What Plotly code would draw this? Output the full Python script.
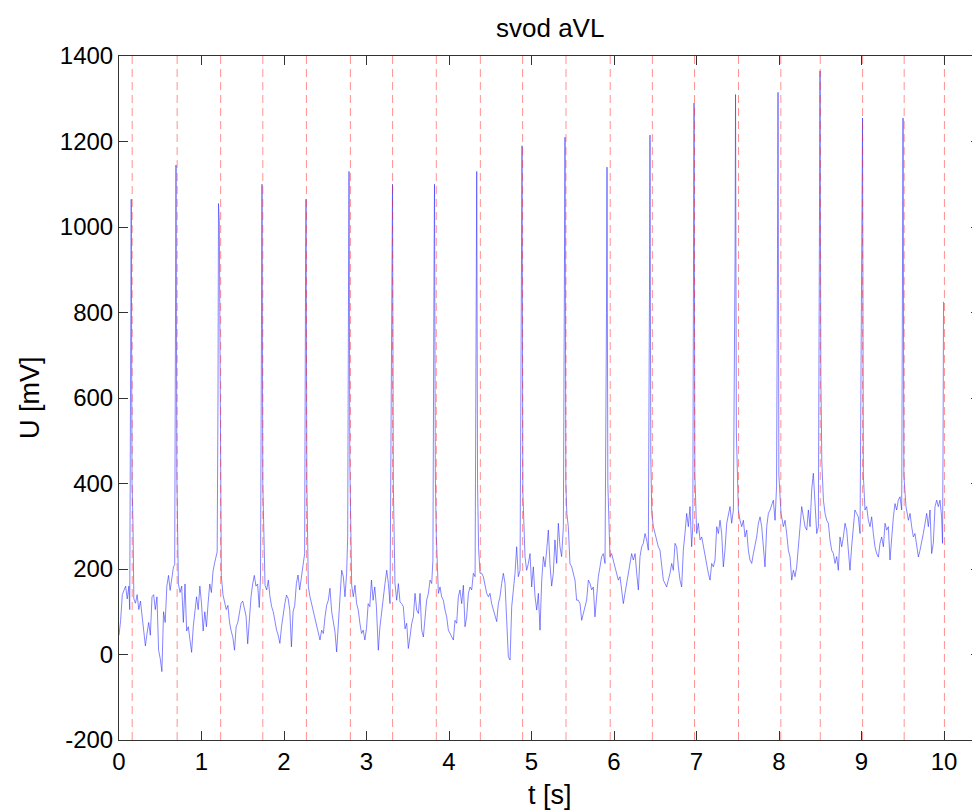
import plotly.graph_objects as go

# ---- baseline samples (time [s], value [mV]) ----
base_t = [0.00, 0.02, 0.04, 0.06, 0.08, 0.10, 0.12, 0.13,
          0.18, 0.20, 0.22, 0.24, 0.26, 0.28, 0.30, 0.32, 0.34, 0.36, 0.38, 0.40, 0.42, 0.44, 0.46, 0.48,
          0.50, 0.52, 0.54, 0.56, 0.58, 0.60, 0.62, 0.64, 0.66, 0.675,
          0.72, 0.74, 0.76, 0.78, 0.80, 0.82, 0.84, 0.86, 0.88, 0.90, 0.92, 0.94, 0.96, 0.98, 1.00, 1.02,
          1.04, 1.06, 1.08, 1.10, 1.12, 1.14, 1.16, 1.19,
          1.24, 1.26, 1.28, 1.30, 1.32, 1.34, 1.36, 1.38, 1.40, 1.42, 1.44, 1.46, 1.48, 1.50, 1.52, 1.54,
          1.56, 1.58, 1.60, 1.62, 1.64, 1.66, 1.68, 1.70, 1.715,
          1.77, 1.79, 1.81, 1.83, 1.85, 1.87, 1.89, 1.91, 1.93, 1.95, 1.97, 1.99, 2.01, 2.03, 2.05, 2.07,
          2.09, 2.11, 2.13, 2.15, 2.17, 2.19, 2.21, 2.23, 2.25,
          2.295, 2.315, 2.335, 2.355, 2.376, 2.396, 2.416, 2.436, 2.456, 2.477, 2.497, 2.517, 2.537, 2.557,
          2.578, 2.598, 2.618, 2.638, 2.658, 2.679, 2.699, 2.719, 2.739, 2.759, 2.772,
          2.82, 2.84, 2.86, 2.88, 2.90, 2.92, 2.94, 2.96, 2.98, 3.00, 3.02, 3.04, 3.06, 3.08, 3.10, 3.12,
          3.143, 3.163, 3.184, 3.204, 3.224, 3.245, 3.265, 3.285,
          3.345, 3.366, 3.386, 3.406, 3.426, 3.446, 3.467, 3.487, 3.507, 3.527, 3.548, 3.568, 3.588, 3.608,
          3.629, 3.649, 3.669, 3.689, 3.709, 3.729, 3.75, 3.77, 3.79, 3.805,
          3.871, 3.891, 3.911, 3.931, 3.952, 3.972, 3.992, 4.012, 4.033, 4.053, 4.073, 4.093, 4.113, 4.133,
          4.154, 4.174, 4.194, 4.214, 4.235, 4.255, 4.275, 4.295, 4.316,
          4.376, 4.396, 4.416, 4.436, 4.457, 4.477, 4.497, 4.517, 4.538, 4.558, 4.578, 4.598, 4.618, 4.638,
          4.659, 4.679, 4.699, 4.719, 4.74, 4.76, 4.78, 4.80, 4.82, 4.84, 4.861,
          4.921, 4.941, 4.962, 4.982, 5.002, 5.022, 5.043, 5.063, 5.083, 5.103, 5.124, 5.144, 5.164, 5.184,
          5.204, 5.224, 5.244, 5.264, 5.284, 5.305, 5.325, 5.345, 5.365, 5.386,
          5.446, 5.466, 5.487, 5.507, 5.527, 5.547, 5.567, 5.588, 5.608, 5.628, 5.648, 5.668, 5.689, 5.709,
          5.729, 5.749, 5.769, 5.79, 5.81, 5.83, 5.85, 5.87, 5.891,
          5.951, 5.971, 5.992, 6.012, 6.032, 6.052, 6.073, 6.093, 6.113, 6.133, 6.153, 6.174, 6.194, 6.214,
          6.234, 6.255, 6.275, 6.295, 6.315, 6.335, 6.355, 6.376, 6.396, 6.416,
          6.477, 6.497, 6.517, 6.537, 6.557, 6.578, 6.598, 6.618, 6.638, 6.658, 6.679, 6.699, 6.719, 6.739,
          6.759, 6.78, 6.80, 6.82, 6.84, 6.86, 6.881, 6.901, 6.921, 6.941, 6.955,
          7.002, 7.022, 7.043, 7.063, 7.083, 7.103, 7.123, 7.143, 7.164, 7.184, 7.204, 7.224, 7.245, 7.265,
          7.285, 7.305, 7.325, 7.345, 7.366, 7.386, 7.406, 7.426, 7.447,
          7.507, 7.527, 7.548, 7.568, 7.588, 7.608, 7.628, 7.648, 7.669, 7.689, 7.709, 7.729, 7.75, 7.77,
          7.79, 7.81, 7.83, 7.851, 7.871, 7.891, 7.911, 7.931, 7.952, 7.97,
          8.024, 8.053, 8.073, 8.093, 8.113, 8.134, 8.154, 8.174, 8.194, 8.214, 8.234, 8.255, 8.275, 8.295,
          8.315, 8.336, 8.356, 8.376, 8.396, 8.416, 8.436, 8.457, 8.477,
          8.538, 8.558, 8.578, 8.598, 8.618, 8.638, 8.659, 8.679, 8.699, 8.719, 8.739, 8.76, 8.78, 8.80,
          8.82, 8.84, 8.86, 8.88, 8.90, 8.92, 8.941, 8.961, 8.982,
          9.042, 9.062, 9.083, 9.103, 9.123, 9.143, 9.163, 9.184, 9.204, 9.224, 9.244, 9.265, 9.285, 9.305,
          9.325, 9.345, 9.365, 9.386, 9.406, 9.426, 9.446, 9.467, 9.487,
          9.539, 9.568, 9.588, 9.608, 9.628, 9.648, 9.668, 9.689, 9.709, 9.729, 9.749, 9.77, 9.79, 9.81,
          9.83, 9.85, 9.87, 9.891, 9.911, 9.931, 9.951, 9.971, 9.982]
base_u = [45, 80, 140, 150, 160, 130, 160, 105,
          130, 120, 140, 105, 125, 90, 60, 20, 50, 75, 45, 135, 140, 105, 135, 10,
          -10, -40, 100, 75, 160, 185, 150, 175, 205, 210,
          165, 145, 160, 75, 165, 55, 65, 35, 5, 65, 105, 135, 105, 160, 120, 55,
          100, 65, 120, 165, 145, 195, 215, 240,
          185, 140, 125, 105, 115, 75, 55, 40, 10, 65, 75, 100, 120, 125, 105, 90,
          25, 90, 135, 165, 185, 160, 165, 110, 180,
          162, 151, 174, 135, 112, 100, 73, 57, 45, 26, 65, 100, 119, 139, 131, 104,
          18, 100, 115, 166, 186, 151, 178, 213, 236,
          158, 135, 119, 104, 88, 73, 57, 34, 57, 49, 88, 115, 127, 155,
          100, 80, 53, 6, 73, 135, 197, 182, 135, 190, 275,
          162, 135, 162, 119, 104, 73, 49, 57, 34, 61, 119, 112, 174, 127, 158, 112,
          10, 65, 104, 143, 166, 197, 166, 119,
          166, 127, 166, 123, 119, 112, 60, 73, 14, 41, 73, 88, 143, 104,
          96, 143, 57, 41, 88, 127, 143, 174, 166, 220,
          143, 158, 135, 127, 104, 88, 57, 49, 41, 34, 80, 73, 135, 151,
          119, 162, 65, 88, 143, 158, 151, 190, 182,
          190, 190, 182, 158, 143, 135, 143, 119, 104, 88, 77, 119, 135, 166,
          190, 166, 88, -5, -13, 112, 151, 190, 252, 182, 197,
          229, 197, 213, 236, 158, 205, 135, 104, 143, 57, 174, 229, 205, 244,
          291, 210, 160, 190, 268, 213, 307, 252, 229, 299,
          299, 213, 205, 190, 174, 127, 127, 119, 80, 96, 112, 127, 174, 166,
          151, 158, 88, 143, 182, 205, 229, 236, 213,
          229, 236, 221, 205, 190, 174, 182, 143, 119, 143, 166, 182, 205, 236,
          221, 236, 190, 151, 229, 252, 260, 283, 268, 244,
          299, 283, 268, 252, 244, 213, 174, 166, 158, 174, 190, 213, 197, 260,
          252, 205, 174, 158, 244, 283, 330, 299, 346, 252, 299,
          283, 307, 268, 275, 252, 236, 213, 190, 174, 213, 205, 221, 299, 283,
          314, 283, 205, 244, 307, 330, 346, 307, 338,
          338, 314, 299, 314, 275, 291, 244, 221, 213, 236, 252, 275, 307, 322,
          299, 260, 205, 299, 330, 338, 353, 361, 314, 392,
          330, 299, 314, 283, 244, 228, 174, 197, 182, 205, 260, 299, 346, 322,
          299, 291, 338, 299, 385, 424, 361, 283, 299,
          361, 330, 314, 307, 268, 244, 236, 213, 229, 197, 275, 252, 275, 307,
          291, 244, 197, 252, 307, 338, 330, 322, 283,
          338, 346, 314, 299, 322, 283, 252, 236, 228, 260, 275, 252, 307, 291,
          299, 221, 275, 322, 353, 338, 361, 369, 338,
          346, 314, 330, 299, 275, 283, 252, 228, 244, 260, 283, 307, 330, 299,
          338, 236, 260, 346, 361, 346, 361, 322, 260]

# ---- QRS spikes (blue trace) ----
spike_t     = [0.148, 0.691, 1.206, 1.733, 2.267, 2.788, 3.315, 3.824, 4.336, 4.885,
               5.406, 5.915, 6.436, 6.970, 7.473, 7.988, 8.497, 9.012, 9.503, 9.994]
spike_pre   = [750, 800, 600, 760, 870, 850, 740, 900, 880, 850,
               900, 800, 850, 950, 930, 950, 1010, 940, 1000, 480]
spike_peak  = [1065, 1145, 1055, 1100, 1065, 1130, 1100, 1100, 1130, 1190,
               1210, 1140, 1215, 1290, 1310, 1315, 1365, 1255, 1255, 825]
spike_post1 = [400, 420, 1010, 400, 400, 450, 400, 420, 400, 380,
               400, 400, 460, 420, 520, 420, 650, 420, 420, None]
spike_post2 = [300, 280, 480, 250, 260, 300, 260, 280, 250, 300,
               330, 280, 330, 330, 380, 380, 450, 380, 380, None]

# ---- detected R-peak markers (red dashed lines) ----
marker_t = [0.160, 0.705, 1.232, 1.743, 2.272, 2.805, 3.316, 3.846, 4.380, 4.892,
            5.418, 5.954, 6.465, 6.976, 7.509, 8.022, 8.500, 9.013, 9.517, 10.005]

x_ticks = [0, 1, 2, 3, 4, 5, 6, 7, 8, 9, 10]
y_ticks = [-200, 0, 200, 400, 600, 800, 1000, 1200, 1400]
y_range = [-200, 1400]
x_range = [0, 10.436]

# assemble the signal table
pts = list(zip(base_t, base_u))
for t, a, p, b, c in zip(spike_t, spike_pre, spike_peak, spike_post1, spike_post2):
    pts.append((t - 0.006, a))
    pts.append((t, p))
    if b is not None:
        pts.append((t + 0.010, b))
    if c is not None:
        pts.append((t + 0.022, c))
pts.sort(key=lambda q: q[0])
sig_t = [q[0] for q in pts]
sig_u = [q[1] for q in pts]

mx, my = [], []
for t in marker_t:
    mx += [t, t, None]
    my += [y_range[0], y_range[1], None]

fig = go.Figure()
fig.add_trace(go.Scatter(x=sig_t, y=sig_u, mode="lines",
                         line=dict(color="rgb(50,50,255)", width=0.6),
                         hoverinfo="skip", showlegend=False))
fig.add_trace(go.Scatter(x=mx, y=my, mode="lines",
                         line=dict(color="rgba(255,40,40,0.5)", width=1, dash="8px,5px"),
                         hoverinfo="skip", showlegend=False))

font_family = "Liberation Sans, Arial, Helvetica, sans-serif"
axis_common = dict(showline=True, linecolor="#333333", linewidth=1, mirror="ticks",
                   ticks="inside", ticklen=9, tickcolor="#333333", showgrid=False,
                   zeroline=False, tickfont=dict(family=font_family, size=24, color="black"))

# the page body adds an 8 px offset, so the figure is sized to fit the window from there
fig.update_layout(
    width=972, height=803,
    margin=dict(l=111, r=0, t=48, b=71),
    paper_bgcolor="white", plot_bgcolor="white",
    xaxis=dict(range=x_range, tickvals=x_ticks, ticktext=[str(v) for v in x_ticks], **axis_common),
    yaxis=dict(range=y_range, tickvals=y_ticks, ticktext=[str(v) for v in y_ticks], **axis_common),
    annotations=[
        dict(text="svod aVL", xref="paper", yref="paper", x=0.5, y=1 + 28 / 684,
             xanchor="center", yanchor="middle", showarrow=False,
             font=dict(family=font_family, size=26, color="black")),
        dict(text="t [s]", xref="paper", yref="paper", x=0.5, y=-(795 - 740) / 684,
             xanchor="center", yanchor="middle", showarrow=False,
             font=dict(family=font_family, size=27, color="black")),
        dict(text="U [mV]", xref="paper", yref="paper", x=-(119 - 30) / 861, y=0.5,
             xanchor="center", yanchor="middle", textangle=-90, showarrow=False,
             font=dict(family=font_family, size=27, color="black")),
    ],
)

fig.write_html("out.html")
